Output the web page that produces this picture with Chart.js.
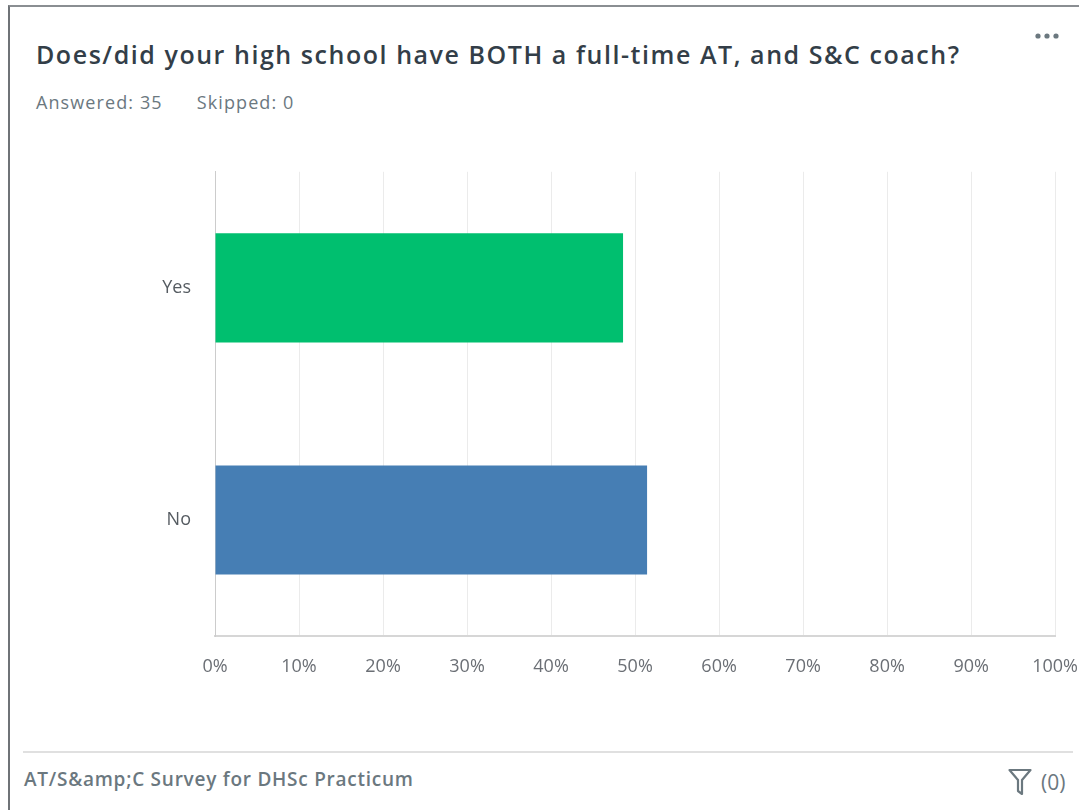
<!DOCTYPE html>
<html>
<head>
<meta charset="utf-8">
<script src="https://cdn.jsdelivr.net/npm/chart.js@4"></script>
<style>
  html, body { margin: 0; padding: 0; background: #fff; }
  body { width: 1079px; height: 810px; position: relative; overflow: hidden; font-family: "Open Sans", sans-serif; }
  .card { position: absolute; left: 8px; top: 5px; width: 1080px; height: 820px; border-left: 2px solid #6f7377; border-top: 2px solid #8a8e92; }
  .title { position: absolute; left: 36px; top: 37px; font-size: 25px; font-weight: 600; color: #333e48; letter-spacing: 1.55px; white-space: nowrap; }
  .meta { position: absolute; left: 36px; top: 90px; font-size: 18px; color: #6b787f; letter-spacing: 1.1px; white-space: nowrap; }
  .meta span + span { margin-left: 34px; }
  .dots { position: absolute; left: 1034px; top: 31px; }
  .footline { position: absolute; left: 23px; top: 751px; width: 1050px; height: 2px; background: #e0e0e0; }
  .footer { position: absolute; left: 24px; top: 766px; font-size: 19px; font-weight: 600; color: #6b787f; letter-spacing: 0.75px; white-space: nowrap; }
  .filter { position: absolute; left: 1008px; top: 768px; font-size: 21px; color: #6b787f; display: flex; align-items: center; }
  .filter svg { margin-right: 9px; }
  #wrap { position: absolute; left: 140px; top: 137px; width: 958px; height: 543px; }
</style>
</head>
<body>
<div class="card"></div>
<div class="title">Does/did your high school have BOTH a full-time AT, and S&amp;C coach?</div>
<div class="meta"><span>Answered: 35</span><span>Skipped: 0</span></div>
<svg class="dots" width="26" height="10" viewBox="0 0 26 10">
  <circle cx="4" cy="5" r="2.6" fill="#6b787f"/>
  <circle cx="13" cy="5" r="2.6" fill="#6b787f"/>
  <circle cx="22" cy="5" r="2.6" fill="#6b787f"/>
</svg>
<div id="wrap"><canvas id="chart"></canvas></div>
<div class="footline"></div>
<div class="footer">AT/S&amp;amp;C Survey for DHSc Practicum</div>
<div class="filter">
  <svg width="24" height="28" viewBox="0 0 24 28"><path d="M1.5 2 H22.5 L14 12 V26 L10 23 V12 Z" fill="none" stroke="#6b787f" stroke-width="2.2" stroke-linejoin="round"/></svg>
  <span>(0)</span>
</div>
<script>
// answer choices and response share (%)
const answers = ['Yes', 'No'];
const percentages = [48.57, 51.43];
const barColors = ['#00bf6f', '#467eb4'];
const axisMax = 100;
const axisStep = 10;

const ctx = document.getElementById('chart');

new Chart(ctx, {
    type: 'bar',
    data: {
        labels: answers,
        datasets: [{
            data: percentages,
            backgroundColor: barColors,
            borderWidth: 0,
            categoryPercentage: 1,
            barPercentage: 0.47
        }]
    },
    options: {
        indexAxis: 'y',
        responsive: true,
        maintainAspectRatio: false,
        animation: false,
        layout: {
            padding: 0
        },
        plugins: {
            legend: { display: false },
            tooltip: { enabled: false }
        },
        scales: {
            x: {
                min: 0,
                max: axisMax,
                afterFit: function(scale) { scale.height = 44; },
                grid: {
                    color: '#ebebeb',
                    lineWidth: 1,
                    drawTicks: false
                },
                border: { color: '#d6d6d6', width: 2 },
                ticks: {
                    stepSize: axisStep,
                    padding: 20,
                    color: '#6b6f75',
                    font: { family: 'Open Sans', size: 18 },
                    callback: function(value) {
                        return value + '%';
                    }
                }
            },
            y: {
                afterFit: function(scale) { scale.width = 75; },
                grid: { display: false, drawTicks: false },
                border: { color: '#cccccc', width: 1 },
                ticks: {
                    padding: 24,
                    color: '#555b61',
                    font: { family: 'Open Sans', size: 18 }
                }
            }
        }
    }
});
</script>
</body>
</html>
